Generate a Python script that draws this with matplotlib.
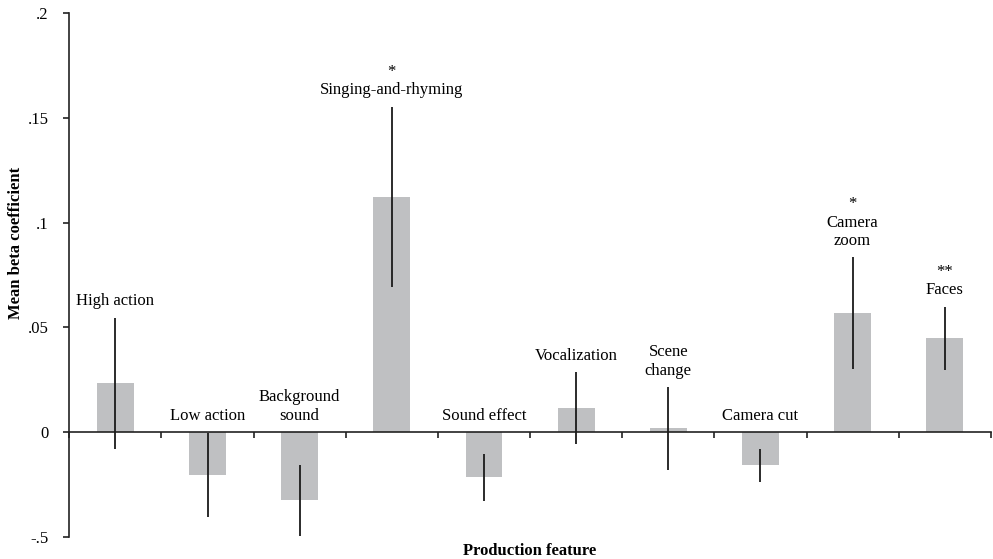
import matplotlib
matplotlib.use("Agg")
from matplotlib import pyplot as plt

features = ["High action", "Low action", "Background\nsound", "Singing-and-rhyming",
            "Sound effect", "Vocalization", "Scene\nchange", "Camera cut",
            "Camera\nzoom", "Faces"]
stars = ["", "", "", "*", "", "", "", "", "*", "**"]
means = [0.0234, -0.0205, -0.0325, 0.1123, -0.0215, 0.0115, 0.0018, -0.0158, 0.0568, 0.0448]
errors = [0.0313, 0.0200, 0.0170, 0.0430, 0.0113, 0.0171, 0.0196, 0.0080, 0.0266, 0.0151]

yticks = [-0.05, 0, 0.05, 0.1, 0.15, 0.2]
yticklabels = ["-.5", "0", ".05", ".1", ".15", ".2"]

plt.rcParams["font.family"] = ["Liberation Serif", "DejaVu Serif"]
plt.rcParams["font.size"] = 12

fig = plt.figure(figsize=(9.93, 5.59), dpi=100)
ax = fig.add_axes([0.0698, 0.0394, 0.928, 0.937])

x = list(range(len(features)))
ax.bar(x, means, width=0.4, color="#bfc0c2", zorder=1)
ax.errorbar(x, means, yerr=errors, fmt="none", ecolor="#1a1a1a", elinewidth=1.3,
            capsize=0, zorder=3)

# label each bar above whichever is higher: the error bar top or the zero line
for i, name in enumerate(features):
    top = max(means[i] + errors[i], 0)
    txt = name if stars[i] == "" else stars[i] + "\n" + name
    ax.annotate(txt, (i, top), xytext=(0, 9), textcoords="offset points",
                ha="center", va="baseline", linespacing=1.2, fontsize=12)

ax.set_xlim(-0.5, len(features) - 0.5)
ax.set_ylim(-0.05, 0.2)
ax.set_yticks(yticks)
ax.set_yticklabels(yticklabels)
ax.set_xticks([k - 0.5 for k in range(len(features) + 1)])
ax.set_xticklabels([])

ax.spines["top"].set_visible(False)
ax.spines["right"].set_visible(False)
ax.spines["bottom"].set_position(("data", 0))
for s in ["left", "bottom"]:
    ax.spines[s].set_linewidth(1.2)
    ax.spines[s].set_color("#222222")
ax.tick_params(axis="both", direction="out", length=4, width=1.2, color="#222222")
ax.tick_params(axis="y", pad=11)

ax.set_ylabel("Mean beta coefficient", fontweight="bold", fontsize=12)
ax.yaxis.set_label_coords(-0.049, 0.561)
ax.set_xlabel("Production feature", fontweight="bold", fontsize=12)
ax.xaxis.set_label_coords(0.5, -0.012)
ax.xaxis.label.set_va("top")

fig.savefig("out.png", dpi=100)
